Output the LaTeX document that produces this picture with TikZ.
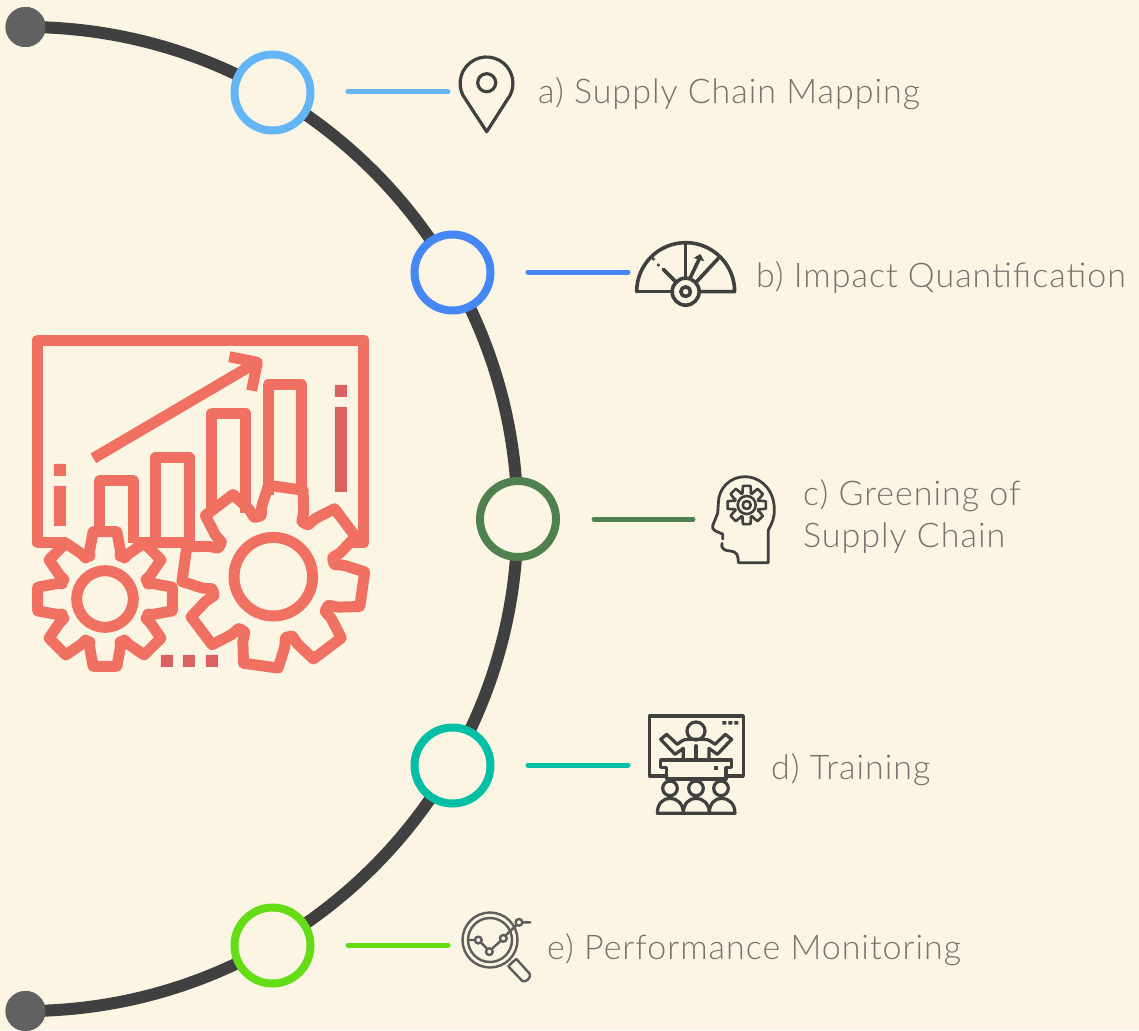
\documentclass[tikz,border=0pt]{standalone}
\usepackage{fontspec}
\setmainfont{Lato Light}[LetterSpace=2.9]
\definecolor{bgc}{HTML}{FDF5E4}
\definecolor{track}{HTML}{404040}
\definecolor{dotc}{HTML}{616161}
\definecolor{salmon}{HTML}{F07162}
\definecolor{darkred}{HTML}{DC6262}
\definecolor{lab}{HTML}{77726E}
\definecolor{ca}{HTML}{64B5F6}
\definecolor{cb}{HTML}{4487F5}
\definecolor{cc}{HTML}{4F8150}
\definecolor{cd}{HTML}{00BFA5}
\definecolor{ce}{HTML}{64DD17}
\tikzset{
 ring/.style={circle,draw=#1,line width=8pt,fill=bgc,minimum size=76pt,inner sep=0pt,outer sep=0pt},
 conn/.style={draw=#1,line width=5pt,line cap=round},
 lbl/.style={anchor=base west,text=lab,font=\fontsize{34}{42}\selectfont,inner sep=0pt,align=left},
 red/.style={draw=salmon,line width=11pt,line join=round},
 ico/.style={draw=track,line width=3.2pt,line join=round,line cap=round},
 endpt/.style={circle,fill=dotc,minimum size=40pt,inner sep=0pt,outer sep=0pt},
}
% gear teeth: centre x, y, offset, tip r, tip half angle, flank r, flank half angle, valley r, style
\newcommand{\gearteeth}[9]{%
 \foreach \aa in {-90,-45,...,225}{%
  \pgfmathsetmacro{\ab}{\aa+#3}%
  \pgfmathsetmacro{\vd}{(22.5-#7)*0.95}%
  \pgfmathsetmacro{\ce}{#7+(#7-#5)*0.55}%
  \pgfmathsetmacro{\cr}{#6-(#4-#6)*0.55}%
  \draw[#9,shift={(#1,#2)}] ({\ab-22.5}:#8) .. controls ({\ab-22.5+\vd}:#8) and ({\ab-\ce}:\cr) .. ({\ab-#7}:#6) -- ({\ab-#5}:#4) -- ({\ab+#5}:#4) -- ({\ab+#7}:#6) .. controls ({\ab+\ce}:\cr) and ({\ab+22.5-\vd}:#8) .. ({\ab+22.5}:#8);
 }%
}
\begin{document}
\begin{tikzpicture}[x=1pt,y=1pt,yscale=-1]
\useasboundingbox (0,0) rectangle (1139,1030);
\fill[bgc] (0,0) rectangle (1139,1030);
% track
\node[endpt] (top) at (25.5,27) {};
\node[endpt] (bot) at (25.5,1011) {};
\draw[track,line width=12pt] (top.center) arc[start angle=-90,end angle=90,radius=492];
\node[endpt] at (top.center) {};
\node[endpt] at (bot.center) {};
% rings
\node[ring=ca] (ra) at (272.5,92.5) {};
\node[ring=cb] (rb) at (452.5,272.5) {};
\node[ring=cc] (rc) at (518,519) {};
\node[ring=cd] (rd) at (452.5,765.5) {};
\node[ring=ce] (re) at (272.5,945.5) {};
% connectors
\coordinate (a1) at (348,92); \coordinate (a2) at (448,92);
\coordinate (b1) at (528,272); \coordinate (b2) at (628,272);
\coordinate (c1) at (594,519); \coordinate (c2) at (693,519);
\coordinate (d1) at (528,765); \coordinate (d2) at (628,765);
\coordinate (e1) at (348,945); \coordinate (e2) at (448,945);
\draw[conn=ca] (a1) -- (a2);
\draw[conn=cb] (b1) -- (b2);
\draw[conn=cc] (c1) -- (c2);
\draw[conn=cd] (d1) -- (d2);
\draw[conn=ce] (e1) -- (e2);
% labels
\node[lbl] (la) at (538,104) {a) Supply Chain Mapping};
\node[lbl] (lb) at (756,287) {b) Impact Quantification};
\node[lbl] (lc) at (803,505) {c) Greening of};
\node[lbl] (lc2) at (803,547) {Supply Chain};
\node[lbl] (ld) at (771,779) {d) Training};
\node[lbl] (le) at (547,959) {e) Performance Monitoring};
% main icon (zoom coordinates)
\begin{scope}[shift={(0,320)},x=0.3333pt,y=0.3333pt]
\draw[red] (200,668) -- (113,668) -- (113,60) -- (1092,60) -- (1092,668) -- (1040,668);
\draw[red] (400,668) -- (560,668);
\draw[red] (280,415) -- (765,130);
\draw[red] (688,110) -- (772,127) -- (755,212);
\draw[red] (299,625) -- (299,482) -- (400,482) -- (400,670);
\draw[red] (467,668) -- (467,414) -- (568,414) -- (568,668);
\draw[red] (636,568) -- (636,280) -- (737,280) -- (737,578);
\draw[red] (805,525) -- (805,195) -- (906,195) -- (906,505);
\draw[red] (1075,640) -- (1092,668);
\fill[salmon] (162,432) rectangle (198,468) (162,498) rectangle (198,618);
\fill[darkred] (1005,195) rectangle (1041,231) (1005,261) rectangle (1041,516);
\fill[darkred] (483,1005) rectangle (519,1041) (549,1005) rectangle (585,1041) (618,1005) rectangle (654,1041);
\end{scope}
\gearteeth{105}{599}{0}{68.3}{10}{51}{17.5}{47}{red,line width=11pt}
\draw[red] (105,599) circle[radius=28.3];
\gearteeth{273.3}{576.7}{8}{91.5}{11}{72}{17}{62}{red,line width=11pt}
\draw[red] (273.3,576.7) circle[radius=39.3];
% pin
\draw[ico] (486.7,131.7) -- (466,100) arc[start angle=141,end angle=399,radius=26.4] -- cycle;
\draw[ico] (486.7,82.7) circle[radius=9];
% gauge
\begin{scope}[shift={(625,230)},x=0.3333pt,y=0.3333pt]
\draw[ico,line width=3.6pt] (140,185) -- (35,185);
\draw[ico,line width=3.6pt] (35,185) arc[start angle=180,end angle=360,radius=49pt] -- (225,185);
\draw[ico,line width=3.6pt] (182,42) -- (182,145);
\draw[ico,line width=3.6pt] (215,155) -- (280,85);
\draw[ico,line width=3.6pt] (195,145) -- (225,82);
\fill[track] (206,84) -- (226,72) -- (238,94) -- cycle;
\draw[ico,line width=3.6pt] (115,118) -- (155,158);
\fill[track] (85,87) circle[radius=1.8pt] (100,105) circle[radius=1.8pt];
\draw[ico,line width=3.6pt] (182,185) circle[radius=13.5pt];
\draw[ico,line width=3.6pt] (182,185) circle[radius=4.8pt];
\end{scope}
% head
\begin{scope}[shift={(700,465)},x=0.3333pt,y=0.3333pt]
\draw[ico,line width=2.8pt] (66,235) .. controls (62,255) and (80,258) .. (92,258) .. controls (110,260) and (115,270) .. (115,293) -- (205,293) -- (205,195) .. controls (222,165) and (225,145) .. (222,118) .. controls (215,65) and (175,35) .. (135,35) .. controls (90,35) and (55,70) .. (55,115) -- (53,145) -- (38,182) .. controls (36,195) and (45,198) .. (68,207) -- (68,222);
\end{scope}
\gearteeth{746.7}{505}{0}{19.5}{11}{14.5}{17}{12.5}{ico,line width=2.6pt}
\draw[ico,line width=2.6pt] (746.7,505) circle[radius=9];
\draw[ico,line width=2.6pt] (746.7,505) circle[radius=4];
% training
\begin{scope}[shift={(640,705)},x=0.3333pt,y=0.3333pt]
\draw[ico] (80,213) -- (28,213) -- (28,33) -- (310,33) -- (310,213) -- (258,213);
\fill[track] (247,48) rectangle (259,59) (265,48) rectangle (277,59) (283,48) rectangle (295,59);
\draw[ico] (168,78) circle[radius=9pt];
\draw[ico] (130,165) -- (130,130) -- (105,148) -- (62,103) -- (80,88) -- (112,118) .. controls (122,110) and (130,103) .. (142,103) -- (194,103) .. controls (206,103) and (214,110) .. (225,118) -- (256,88) -- (275,103) -- (232,148) -- (207,130) -- (207,165);
\draw[ico] (168,122) -- (168,165);
\draw[ico] (62,165) -- (275,165) -- (275,188) -- (258,188) -- (258,222) -- (80,222) -- (80,188) -- (62,188) -- cycle;
\fill[track] (222,182) rectangle (235,195);
\draw[ico] (90,250) circle[radius=7.3pt] (168,250) circle[radius=7.3pt] (243,250) circle[radius=7.3pt];
\draw[ico] (52,325) .. controls (52,295) and (70,280) .. (90,280) .. controls (110,280) and (130,295) .. (130,325) .. controls (130,295) and (148,280) .. (168,280) .. controls (188,280) and (208,295) .. (208,325) .. controls (208,295) and (225,280) .. (245,280) .. controls (265,280) and (285,295) .. (285,325) -- cycle;
\end{scope}
% magnifier
\begin{scope}[shift={(455,905)},x=0.3333pt,y=0.3333pt]
\begin{scope}[every path/.append style={draw=track!85!white,line width=2.4pt,line cap=round,line join=round}]
\path (105,105) circle[radius=27.5pt];
\path (105,105) circle[radius=22pt];
\path (172,172) -- (160,184) -- (202,228) .. controls (212,234) and (230,218) .. (224,206) -- (184,162) -- cycle;
\path (70,105) circle[radius=3.4pt] (103,140) circle[radius=3.4pt] (145,100) circle[radius=3.4pt] (192,52) circle[radius=3.4pt];
\path (42,105) -- (60,105) (78,113) -- (95,130) (112,130) -- (137,108) (153,90) -- (185,60) (202,52) -- (226,52);
\end{scope}
\end{scope}
\end{tikzpicture}
\end{document}
